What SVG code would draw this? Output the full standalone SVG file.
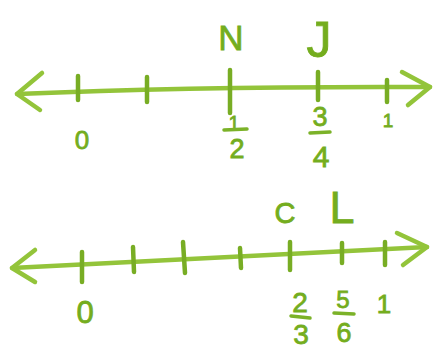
<svg xmlns="http://www.w3.org/2000/svg" width="437" height="349" viewBox="0 0 437 349">
<style>
.ln{fill:none;stroke:#93c43a;stroke-width:4.5;stroke-linecap:round;stroke-linejoin:round}
.tk{fill:none;stroke:#78ad24;stroke-width:4.5;stroke-linecap:round}
.bar{fill:none;stroke:#7bb228;stroke-width:3.5;stroke-linecap:round}
.t{fill:#74ad1e;stroke:#74ad1e;stroke-width:0.8;font-family:"Liberation Sans",Arial,sans-serif;text-anchor:middle}
</style>
<rect width="437" height="349" fill="#ffffff"/>
<g id="number-line-1">
  <g id="axis-1">
    <path class="ln" d="M17,94 Q200,86 430,87"/>
    <path class="ln" d="M42,73 L17,94 L40,110"/>
    <path class="ln" d="M402,72 L430,87 L408,105"/>
  </g>
  <g id="ticks-1">
    <line class="tk" x1="78" y1="76" x2="78" y2="100"/>
    <line class="tk" x1="147" y1="77" x2="147" y2="102"/>
    <line class="tk" x1="230" y1="70" x2="230" y2="113"/>
    <line class="tk" x1="318" y1="72" x2="318" y2="100"/>
    <line class="tk" x1="387" y1="80" x2="387" y2="102"/>
  </g>
  <g id="point-N"><text class="t" x="231" y="50" font-size="35">N</text></g>
  <g id="point-J"><text class="t" x="319" y="57" font-size="50">J</text></g>
  <g id="label-0-top"><text class="t" x="82" y="149" font-size="26">0</text></g>
  <g id="label-half">
    <text class="t" x="234" y="130" font-size="20">1</text>
    <line class="bar" x1="224" y1="130" x2="247" y2="129"/>
    <text class="t" x="237" y="158" font-size="27">2</text>
  </g>
  <g id="label-three-quarters">
    <text class="t" x="320" y="126" font-size="27">3</text>
    <line class="bar" x1="310" y1="133" x2="330" y2="132"/>
    <text class="t" x="321" y="167" font-size="30">4</text>
  </g>
  <g id="label-1-top"><text class="t" x="388" y="127" font-size="19">1</text></g>
</g>
<g id="number-line-2">
  <g id="axis-2">
    <path class="ln" d="M12,268 L427,247"/>
    <path class="ln" d="M35,250 L12,268 L35,282"/>
    <path class="ln" d="M397,233 L427,247 L403,265"/>
  </g>
  <g id="ticks-2">
    <line class="tk" x1="82" y1="252" x2="82" y2="282"/>
    <line class="tk" x1="133" y1="247" x2="134" y2="272"/>
    <line class="tk" x1="183" y1="242" x2="185" y2="273"/>
    <line class="tk" x1="240" y1="248" x2="241" y2="268"/>
    <line class="tk" x1="290" y1="242" x2="290" y2="270"/>
    <line class="tk" x1="342" y1="243" x2="342" y2="263"/>
    <line class="tk" x1="385" y1="242" x2="385" y2="265"/>
  </g>
  <g id="point-C"><text class="t" x="285" y="223" font-size="29">C</text></g>
  <g id="point-L"><text class="t" x="342" y="223" font-size="45">L</text></g>
  <g id="label-0-bottom"><text class="t" x="85" y="323" font-size="31">0</text></g>
  <g id="label-two-thirds">
    <text class="t" x="300" y="312" font-size="28">2</text>
    <line class="bar" x1="291" y1="316" x2="310" y2="318"/>
    <text class="t" x="301" y="344" font-size="28">3</text>
  </g>
  <g id="label-five-sixths">
    <text class="t" x="343" y="308" font-size="24">5</text>
    <line class="bar" x1="334" y1="313" x2="354" y2="314"/>
    <text class="t" x="344" y="342" font-size="27">6</text>
  </g>
  <g id="label-1-bottom"><text class="t" x="384" y="313" font-size="26">1</text></g>
</g>
</svg>
